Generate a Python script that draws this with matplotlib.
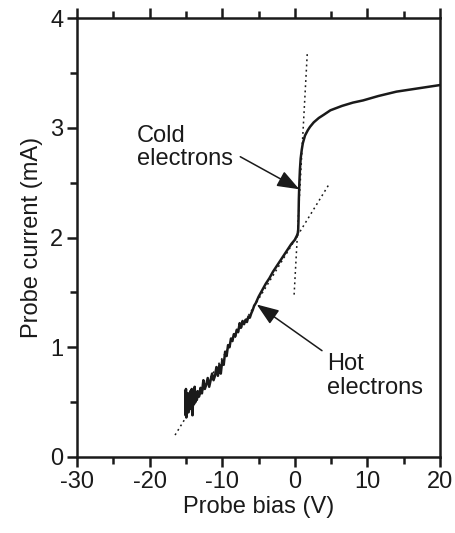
import numpy as np
import matplotlib.pyplot as plt

# probe I-V trace (V, mA)
bias = [-15.1, -15.05, -15.0, -14.95, -14.9, -14.8, -14.7, -14.6, -14.5, -14.4,
        -14.3, -14.2, -14.1, -14.0, -13.9, -13.8, -13.7, -13.6, -13.5, -13.4,
        -13.2, -13.0, -12.8, -12.6, -12.4, -12.2, -12.0, -11.8, -11.6, -11.4,
        -11.2, -11.0, -10.8, -10.6, -10.4, -10.2, -10.0, -9.8, -9.6, -9.4,
        -9.2, -9.0, -8.8, -8.6, -8.4, -8.2, -8.0, -7.8, -7.6, -7.4,
        -7.2, -7.0, -6.8, -6.6, -6.4, -6.2, -6.0, -5.8, -5.6, -5.4,
        -5.0, -4.5, -4.0, -3.5, -3.0, -2.5, -2.0, -1.5, -1.0, -0.5,
        0.0, 0.3, 0.45, 0.5, 0.55, 0.62, 0.7, 0.8, 0.95, 1.1,
        1.4, 1.8, 2.1, 2.6, 3.3, 4.0, 4.9, 6.5, 8.0, 9.4,
        11.5, 14.0, 16.0, 18.0, 20.0]
current = [0.60, 0.38, 0.62, 0.36, 0.55, 0.40, 0.58, 0.42, 0.50, 0.60,
           0.44, 0.62, 0.38, 0.56, 0.48, 0.64, 0.50, 0.57, 0.52, 0.60,
           0.55, 0.63, 0.58, 0.70, 0.62, 0.66, 0.72, 0.64, 0.70, 0.76,
           0.70, 0.74, 0.82, 0.74, 0.84, 0.76, 0.88, 0.84, 0.96, 0.92,
           1.02, 1.00, 1.08, 1.06, 1.12, 1.10, 1.16, 1.14, 1.22, 1.18,
           1.24, 1.21, 1.25, 1.23, 1.28, 1.27, 1.31, 1.34, 1.38, 1.40,
           1.46, 1.52, 1.58, 1.63, 1.69, 1.74, 1.79, 1.84, 1.89, 1.94,
           1.98, 2.02, 2.05, 2.15, 2.35, 2.50, 2.62, 2.72, 2.80, 2.86,
           2.93, 2.98, 3.01, 3.05, 3.09, 3.12, 3.16, 3.20, 3.23, 3.25,
           3.29, 3.33, 3.35, 3.37, 3.39]

# dotted fit lines
hot_fit_x = [-16.5, 4.75]
hot_fit_y = [0.20, 2.49]
cold_fit_x = [-0.1, 1.72]
cold_fit_y = [1.48, 3.69]

ink = "#1a1a1a"
plt.rcParams["font.family"] = ["Liberation Sans", "DejaVu Sans"]
plt.rcParams["axes.unicode_minus"] = False

fig = plt.figure(figsize=(4.56, 5.33), dpi=100)
ax = fig.add_axes([0.169, 0.1426, 0.796, 0.8234])

ax.plot(bias, current, color=ink, lw=1.8)
ax.plot(hot_fit_x, hot_fit_y, color=ink, lw=1.1, ls=(0, (1.2, 2.2)))
ax.plot(cold_fit_x, cold_fit_y, color=ink, lw=1.1, ls=(0, (1.2, 2.2)))

ax.set_xlim(-30, 20)
ax.set_ylim(0, 4)
ax.set_xticks(np.arange(-30, 21, 10))
ax.set_xticks(np.arange(-25, 20, 10), minor=True)
ax.set_yticks(np.arange(0, 5, 1))
ax.set_yticks(np.arange(0.5, 4, 1), minor=True)

for s in ax.spines.values():
    s.set_linewidth(1.8)
    s.set_color(ink)

ax.tick_params(which="both", direction="out", color=ink, width=1.8,
               top=True, right=False, labelsize=17, labelcolor=ink, pad=3)
ax.tick_params(which="major", length=7)
ax.tick_params(which="minor", length=5)

ax.set_xlabel("Probe bias (V)", fontsize=17, color=ink, labelpad=2)
ax.set_ylabel("Probe current (mA)", fontsize=17, color=ink, labelpad=5)

ax.annotate("Cold\nelectrons", xy=(0.62, 2.44), xytext=(-21.8, 2.82),
            fontsize=17, color=ink, va="center", ha="left", linespacing=1.1,
            arrowprops=dict(arrowstyle="-|>,head_length=0.8,head_width=0.3",
                            color=ink, lw=1.1, shrinkA=0, shrinkB=0,
                            relpos=(1.08, 0.3)))
ax.annotate("Hot\nelectrons", xy=(-5.25, 1.39), xytext=(4.4, 0.74),
            fontsize=17, color=ink, va="center", ha="left", linespacing=1.1,
            arrowprops=dict(arrowstyle="-|>,head_length=0.8,head_width=0.3",
                            color=ink, lw=1.1, shrinkA=0, shrinkB=0,
                            relpos=(-0.05, 1.05)))

plt.savefig("out.png", dpi=100)
